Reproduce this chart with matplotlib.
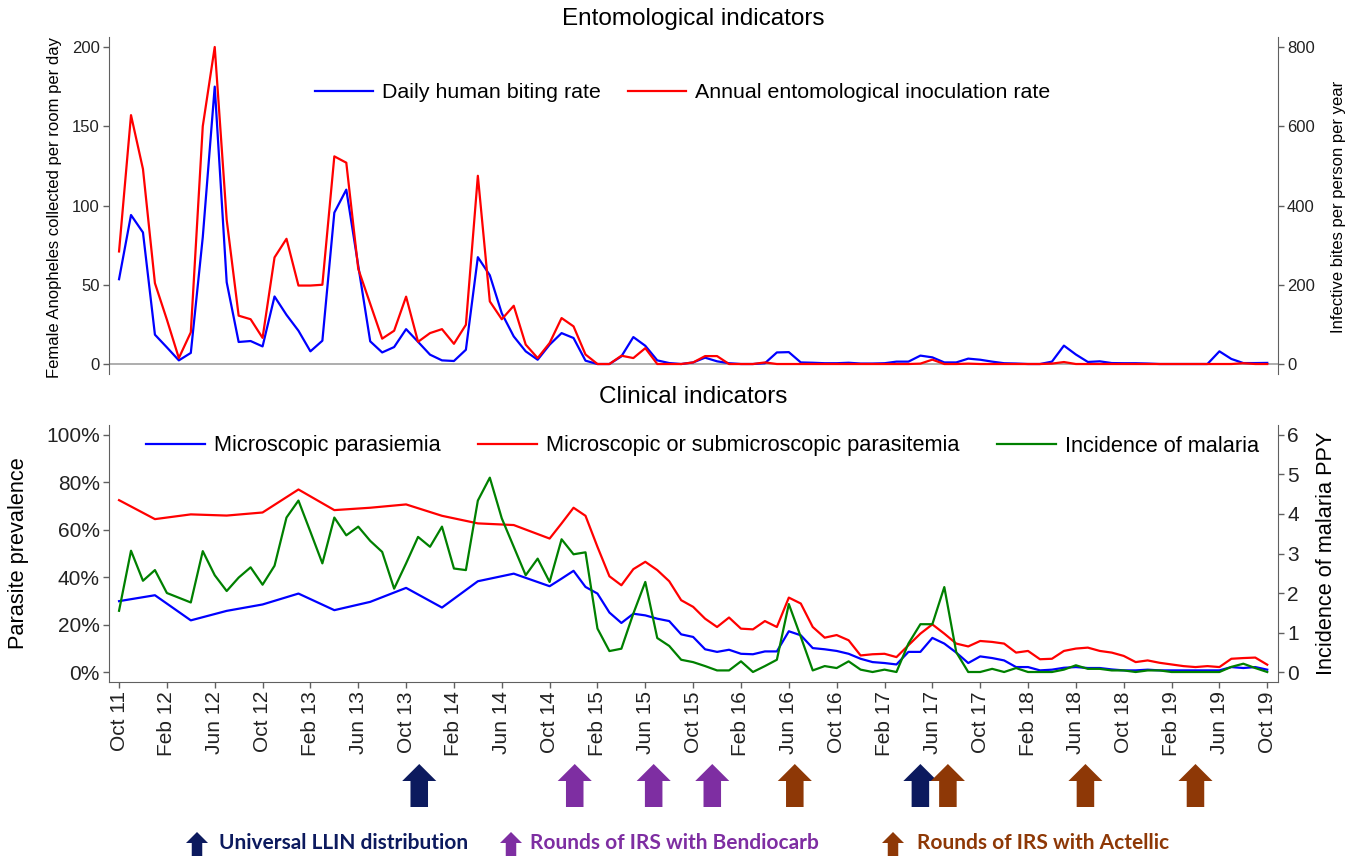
import matplotlib.pyplot as plt
from matplotlib.patches import FancyArrow
from matplotlib.transforms import blended_transform_factory
from matplotlib.ticker import FuncFormatter

plt.rcParams['font.family'] = ['Liberation Sans', 'DejaVu Sans']

# ---- data (x = months since Oct 2011) ----
tick_months = list(range(0, 97, 4))
tick_labels = ['Oct 11', 'Feb 12', 'Jun 12', 'Oct 12', 'Feb 13', 'Jun 13', 'Oct 13',
               'Feb 14', 'Jun 14', 'Oct 14', 'Feb 15', 'Jun 15', 'Oct 15', 'Feb 16',
               'Jun 16', 'Oct 16', 'Feb 17', 'Jun 17', 'Oct 17', 'Feb 18', 'Jun 18',
               'Oct 18', 'Feb 19', 'Jun 19', 'Oct 19']

ento_months = list(range(0, 97))
# daily human biting rate (left axis)
hbr = [53.5, 94, 83, 18.5, 10.5, 2.3, 7, 80, 175, 51.6,
       13.9, 14.5, 11.1, 42.6, 31, 21, 8, 14.7, 95.5, 110,
       62, 14.3, 7.3, 10.7, 22, 14, 5.9, 2.3, 1.9, 9,
       67.4, 56, 32, 17.4, 8, 2.7, 12.2, 19.5, 16.4, 2.1,
       0, 0, 4.8, 17, 11.5, 2.3, 0.6, 0, 1, 4,
       1.7, 0.5, 0, 0, 0.5, 7.3, 7.5, 1, 0.8, 0.5,
       0.5, 0.8, 0.3, 0.3, 0.5, 1.5, 1.5, 5.3, 4.2, 1,
       1, 3.4, 2.7, 1.5, 0.5, 0.3, 0, 0, 1.5, 11.6,
       6, 1.3, 1.7, 0.6, 0.5, 0.5, 0.3, 0, 0, 0,
       0, 0, 8, 3.2, 0.6, 0.6, 0.7]
# annual entomological inoculation rate (right axis)
eir = [284, 628, 492, 204, 112, 15, 80, 600, 800, 364,
       122, 113, 66, 269, 316, 198, 198, 200, 524, 508,
       240, 152, 64, 84, 170, 56, 78, 88, 51, 99,
       475, 158, 113, 147, 49, 15, 53, 116, 95, 24,
       0, 0, 21, 15, 40, 0, 0, 0, 4, 20,
       20, 0, 0, 0, 4, 0, 0, 0, 0, 0,
       0, 0, 0, 0, 0, 0, 0, 1, 11, 0,
       0, 1, 0, 0, 0, 0, 0, 0, 1, 5,
       0, 0, 0, 0, 0, 0, 0, 0, 0, 0,
       0, 0, 0, 0, 2, 0, 0]

prev_months = [0, 3, 6, 9, 12, 15, 18, 21, 24, 27, 30, 33] + list(range(36, 97))
micro = [29.9, 32.4, 21.8, 25.8, 28.5, 33.1, 26.1, 29.6, 35.5, 27.2, 38.3, 41.5,
         36.2, 39.4, 42.7, 35.9, 33.1, 25.1, 20.7, 24.6, 23.9, 22.5, 21.5, 15.9,
         14.8, 9.6, 8.5, 9.4, 7.7, 7.5, 8.7, 8.7, 17.2, 15.5, 10.1, 9.6,
         8.9, 7.7, 5.6, 4.2, 3.8, 3.2, 8.5, 8.5, 14.4, 12, 8.2, 3.8,
         6.6, 5.9, 4.9, 2.1, 2.1, 0.7, 1, 1.8, 2.1, 1.7, 1.7, 1.1,
         0.7, 0.7, 1, 0.7, 0.7, 0.7, 0.7, 0.7, 0.7, 2.1, 1.7, 2.1, 1]
submicro = [72.5, 64.5, 66.5, 66, 67.3, 77, 68.3, 69.3, 70.7, 65.9, 62.7, 62,
            56.3, 62.7, 69.3, 65.9, 52.8, 40.4, 36.6, 43.4, 46.5, 43, 38.3, 30.3,
            27.5, 22.5, 19, 23, 18.3, 18, 21.5, 19, 31.4, 28.9, 19, 14.5,
            15.6, 13.4, 7, 7.5, 7.7, 6.3, 11.3, 16.2, 20.1, 16.2, 12, 10.8,
            13.1, 12.7, 12, 8.2, 8.9, 5.4, 5.6, 8.9, 9.9, 10.3, 8.9, 8.2,
            6.8, 4.2, 4.9, 3.9, 3.2, 2.5, 2.1, 2.5, 2.1, 5.6, 5.9, 6.1, 3.1]

inc_months = [0, 1, 2, 3, 4] + list(range(6, 97))
incidence = [1.55, 3.07, 2.31, 2.58, 2.0, 1.76, 3.06, 2.45, 2.05, 2.39,
             2.65, 2.21, 2.69, 3.91, 4.34, 3.55, 2.75, 3.91, 3.46, 3.68,
             3.32, 3.04, 2.11, 2.75, 3.42, 3.17, 3.68, 2.62, 2.58, 4.34,
             4.92, 3.89, 3.17, 2.45, 2.87, 2.28, 3.36, 2.98, 3.03, 1.10,
             0.53, 0.59, 1.48, 2.28, 0.86, 0.66, 0.31, 0.25, 0.15, 0.04,
             0.04, 0.27, 0.0, 0.15, 0.31, 1.72, 0.89, 0.04, 0.15, 0.10,
             0.27, 0.06, 0.0, 0.06, 0.0, 0.72, 1.21, 1.21, 2.15, 0.5,
             0.0, 0.0, 0.08, 0.0, 0.1, 0, 0, 0, 0.06, 0.17,
             0.08, 0.08, 0.04, 0.04, 0, 0.04, 0.04, 0, 0, 0,
             0, 0, 0.13, 0.21, 0.1, 0]

llin_months = [25.1, 67.0]
bendiocarb_months = [38.1, 44.7, 49.6]
actellic_months = [56.5, 69.3, 80.8, 90.0]

NAVY = '#0c1a5e'
PURPLE = '#7e2ea2'
BROWN = '#8e3806'
SPINE = '#606060'

W, H = 1354, 856
fig = plt.figure(figsize=(W / 100, H / 100), dpi=100)


def fx(px):
    return px / W


def fy(py):
    return 1 - py / H


ax1 = fig.add_axes([fx(109), fy(374), fx(1278) - fx(109), fy(37) - fy(374)])
ax1r = ax1.twinx()
ax2 = fig.add_axes([fx(109), fy(682), fx(1278) - fx(109), fy(425) - fy(682)])
ax2r = ax2.twinx()

# ---- top panel ----
ax1.axhline(0, color='#a0a0a0', lw=1.2, zorder=0)
l1, = ax1.plot(ento_months, hbr, color='#0000ff', lw=1.6, label='Daily human biting rate')
l2, = ax1r.plot(ento_months, eir, color='#ff0000', lw=1.6,
                label='Annual entomological inoculation rate')
ax1.set_xlim(-0.84, 96.9)
ax1.set_ylim(-6.3, 206.3)
ax1r.set_ylim(-25.2, 825.2)
ax1.set_yticks([0, 50, 100, 150, 200])
ax1r.set_yticks([0, 200, 400, 600, 800])
ax1.set_xticks([])

for s in ['top', 'bottom', 'right']:
    ax1.spines[s].set_visible(False)
for s in ['top', 'bottom', 'left']:
    ax1r.spines[s].set_visible(False)
ax1.spines['left'].set_color(SPINE)
ax1r.spines['right'].set_color(SPINE)
for a in (ax1, ax1r):
    a.tick_params(axis='y', direction='out', length=4.5, width=1, color=SPINE,
                  labelsize=12, pad=2, labelcolor='#222222')

# ---- bottom panel ----
l3, = ax2.plot(prev_months, micro, color='#0000ff', lw=1.6, label='Microscopic parasiemia')
l4, = ax2.plot(prev_months, submicro, color='#ff0000', lw=1.6,
               label='Microscopic or submicroscopic parasitemia')
l5, = ax2r.plot(inc_months, incidence, color='#008000', lw=1.6, label='Incidence of malaria')
ax2.set_xlim(-0.84, 96.9)
ax2.set_ylim(-4.2, 104.2)
ax2r.set_ylim(-0.253, 6.253)
ax2.set_yticks([0, 20, 40, 60, 80, 100])
ax2.yaxis.set_major_formatter(FuncFormatter(lambda v, p: '{:.0f}%'.format(v)))
ax2r.set_yticks([0, 1, 2, 3, 4, 5, 6])
ax2.set_xticks(tick_months)
ax2.set_xticklabels(tick_labels, rotation=90)

for s in ['top', 'right']:
    ax2.spines[s].set_visible(False)
for s in ['top', 'left', 'bottom']:
    ax2r.spines[s].set_visible(False)
ax2.spines['left'].set_color(SPINE)
ax2.spines['bottom'].set_color(SPINE)
ax2r.spines['right'].set_color(SPINE)
for a in (ax2, ax2r):
    a.tick_params(axis='y', direction='out', length=4.5, width=1, color=SPINE,
                  labelsize=15, pad=2, labelcolor='#222222')
ax2.tick_params(axis='x', direction='out', length=4.5, width=1, color=SPINE,
                labelsize=15, pad=2, labelcolor='#222222')

# ---- titles, axis labels ----
fig.text(fx(693.5), fy(19), 'Entomological indicators', ha='center', va='center', fontsize=17.5)
fig.text(fx(693.5), fy(397), 'Clinical indicators', ha='center', va='center', fontsize=17.5)
fig.text(fx(54.5), fy(207), 'Female Anopheles collected per room per day', rotation=90,
         ha='center', va='center', fontsize=12)
fig.text(fx(1339), fy(207), 'Infective bites per person per year', rotation=90,
         ha='center', va='center', fontsize=12)
fig.text(fx(19), fy(553), 'Parasite prevalence', rotation=90,
         ha='center', va='center', fontsize=15.7)
fig.text(fx(1326), fy(553), 'Incidence of malaria PPY', rotation=90,
         ha='center', va='center', fontsize=15.7)

# ---- legends ----
fig.legend(handles=[l1, l2], loc='center', bbox_to_anchor=(fx(682.5), fy(93)), ncol=2,
           frameon=False, fontsize=15.4, handlelength=2.7, handletextpad=0.42,
           columnspacing=1.3, borderpad=0, borderaxespad=0)
fig.legend(handles=[l3, l4, l5], loc='center', bbox_to_anchor=(fx(702.5), fy(446)), ncol=3,
           frameon=False, fontsize=15.7, handlelength=2.7, handletextpad=0.42,
           columnspacing=1.7, borderpad=0, borderaxespad=0)

# ---- intervention arrows under the time axis ----
trans = blended_transform_factory(ax2.transData, fig.transFigure)
month_px = 1146 / 96.0
for months, col in [(llin_months, NAVY), (bendiocarb_months, PURPLE), (actellic_months, BROWN)]:
    for m in months:
        arr = FancyArrow(m, fy(807), 0, fy(764) - fy(807), width=17.5 / month_px,
                         head_width=34 / month_px, head_length=17 / H,
                         length_includes_head=True, color=col, lw=0, transform=trans)
        fig.add_artist(arr)

# ---- bottom key ----
key_items = [(197, 219, 'Universal LLIN distribution', NAVY),
             (511, 530, 'Rounds of IRS with Bendiocarb', PURPLE),
             (893, 917, 'Rounds of IRS with Actellic', BROWN)]
for ax_px, tx_px, txt, col in key_items:
    arr = FancyArrow(fx(ax_px), fy(860), 0, fy(832) - fy(860), width=10.5 / W,
                     head_width=22 / W, head_length=11 / H, length_includes_head=True,
                     color=col, lw=0, transform=fig.transFigure)
    fig.add_artist(arr)
    fig.text(fx(tx_px), fy(843), txt, ha='left', va='center', fontsize=15,
             fontweight='bold', color=col, family=['Lato', 'DejaVu Sans'])

fig.savefig('out.png', dpi=100)
